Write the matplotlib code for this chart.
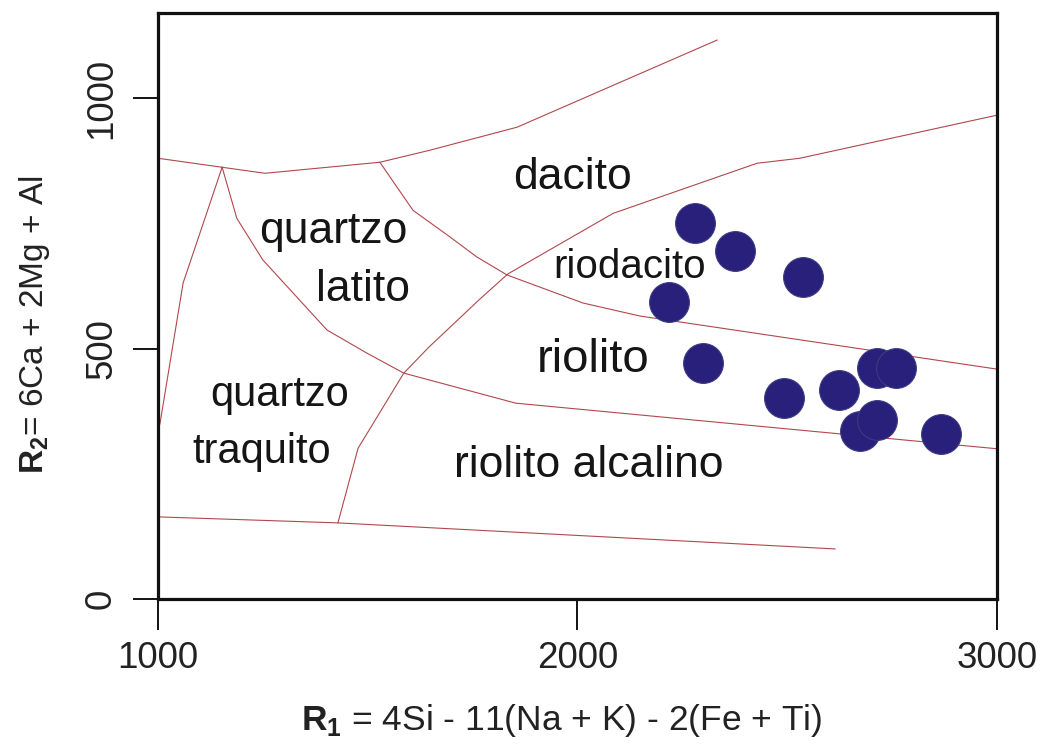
import matplotlib
matplotlib.use("Agg")
import matplotlib.pyplot as plt

plt.rcParams['font.family'] = ['Liberation Sans', 'DejaVu Sans']
plt.rcParams['mathtext.fontset'] = 'custom'
plt.rcParams['mathtext.rm'] = 'Liberation Sans'
plt.rcParams['mathtext.bf'] = 'Liberation Sans:bold'

# Sample points (R1, R2)
r1 = [2280, 2375, 2538, 2218, 2299, 2492, 2623, 2714, 2759, 2673, 2714, 2867]
r2 = [750, 695, 643, 593, 471, 401, 417, 461, 461, 335, 357, 329]

# Field boundary lines (R1, R2)
b1_x = [1000, 1153, 1255, 1529, 1648, 1856, 2333]
b1_y = [880, 862, 850, 872, 896, 942, 1116]
b2_x = [1153, 1060, 1005, 1000]
b2_y = [862, 631, 351, 335]
b3_x = [1153, 1188, 1250, 1403, 1498, 1586, 1853, 3000]
b3_y = [862, 760, 677, 537, 491, 451, 391, 300]
b4_x = [1529, 1608, 1696, 1760, 1832, 2013, 2149, 3000]
b4_y = [872, 776, 723, 683, 647, 591, 565, 459]
b5_x = [1429, 1477, 1586, 1646, 1765, 1834, 2085, 2428, 2530, 3000]
b5_y = [152, 301, 451, 503, 597, 649, 770, 870, 880, 966]
b6_x = [1000, 1429, 2614]
b6_y = [164, 152, 100]

# Field labels
lab_text = ['dacito', 'quartzo', 'latito', 'quartzo', 'traquito',
            'riodacito', 'riolito', 'riolito alcalino']
lab_x = [1989, 1417, 1489, 1291, 1248, 2125, 2037, 2027]
lab_y = [842, 733, 617, 407, 293, 663, 477, 267]
lab_size = [32, 32, 32, 30, 30, 29, 34, 32]

xticks = [1000, 2000, 3000]
yticks = [0, 500, 1000]

fig = plt.figure(figsize=(10.53, 7.47), dpi=100)
ax = fig.add_axes([0.150, 0.1981, 0.7968, 0.7845])

lc = '#b0484c'
for xs, ys in [(b1_x, b1_y), (b2_x, b2_y), (b3_x, b3_y), (b4_x, b4_y), (b5_x, b5_y), (b6_x, b6_y)]:
    ax.plot(xs, ys, color=lc, lw=0.8, clip_on=True, zorder=2)

for t, x, y, s in zip(lab_text, lab_x, lab_y, lab_size):
    ax.text(x, y, t, fontsize=s, ha='center', va='center', color='#151515', zorder=3)

ax.scatter(r1, r2, s=820, color='#28207a', edgecolor='#3d3a80', linewidth=0.8, zorder=4)

ax.set_xlim(1000, 3000)
ax.set_ylim(0, 1170)
ax.set_xticks(xticks)
ax.set_yticks(yticks)
ax.set_xticklabels([str(v) for v in xticks], fontsize=26.5, color='#222222')
ax.set_yticklabels([str(v) for v in yticks], fontsize=26.5, rotation=90, va='center', color='#222222')
ax.tick_params(axis='x', length=22, width=1.3, pad=8, direction='out')
ax.tick_params(axis='y', length=18, width=1.3, pad=10, direction='out')
for sp in ax.spines.values():
    sp.set_linewidth(2.3)
    sp.set_color('#111111')

fig.text(0.533, 0.036, r'$\mathbf{R}_{\mathbf{1}}$' + ' = 4Si - 11(Na + K) - 2(Fe + Ti)',
         fontsize=25.5, ha='center', va='center', color='#222222')
fig.text(0.033, 0.565, r'$\mathbf{R}_{\mathbf{2}}$' + '= 6Ca + 2Mg + Al',
         fontsize=24, ha='center', va='center', rotation=90, color='#222222')

fig.savefig('out.png', dpi=100)
